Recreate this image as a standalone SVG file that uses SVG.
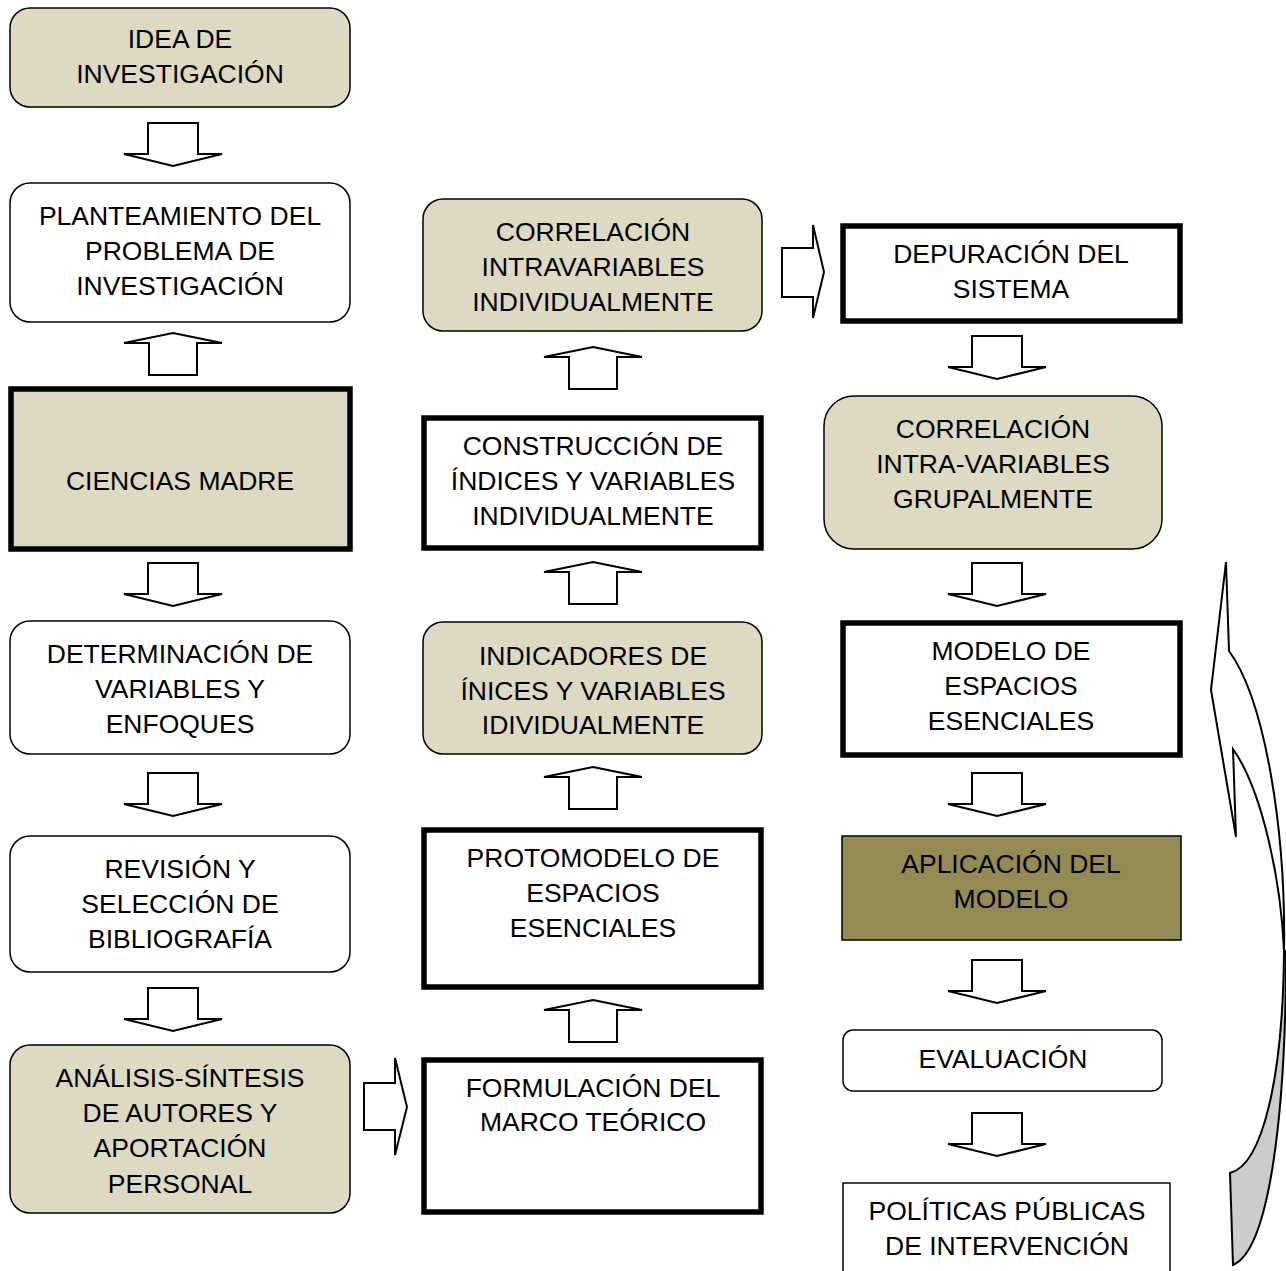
<svg xmlns="http://www.w3.org/2000/svg" width="1286" height="1271" viewBox="0 0 1286 1271">
<style>
.t{font-family:"Liberation Sans",Arial,sans-serif;font-size:26.5px;fill:#000;text-anchor:middle}
.tan{fill:#ddd9c3}
.wh{fill:#fff}
.thin{stroke:#000;stroke-width:1.5}
.thick{stroke:#000;stroke-width:5.5}
.arr{fill:#fff;stroke:#000;stroke-width:2;stroke-linejoin:miter}
</style>
<defs>
<path id="dn" d="M-25,0 L25,0 L25,31 L49,31 L0,43 L-49,31 L-25,31 Z"/>
<path id="up" d="M0,0 L49,10 L24,10 L24,42 L-24,42 L-24,10 L-49,10 Z"/>
</defs>
<rect width="1286" height="1271" fill="#fff"/>
<g id="connectors">
<use href="#dn" x="173" y="123" class="arr"/>
<use href="#up" x="173" y="333" class="arr"/>
<use href="#dn" x="173" y="563" class="arr"/>
<use href="#dn" x="173" y="773" class="arr"/>
<use href="#dn" x="173" y="988" class="arr"/>
<path class="arr" d="M364,1083 L395,1083 L395,1058 L407,1107 L395,1155 L395,1130 L364,1130 Z"/>
<use href="#up" x="593" y="347" class="arr"/>
<use href="#up" x="593" y="562" class="arr"/>
<use href="#up" x="593" y="767" class="arr"/>
<use href="#up" x="593" y="1000" class="arr"/>
<path class="arr" d="M782,248 L813,248 L813,225 L824,272 L813,318 L813,297 L782,297 Z"/>
<use href="#dn" x="997" y="336" class="arr"/>
<use href="#dn" x="997" y="563" class="arr"/>
<use href="#dn" x="997" y="773" class="arr"/>
<use href="#dn" x="997" y="960" class="arr"/>
<use href="#dn" x="997" y="1113" class="arr"/>
<g id="curved-arrow">
<path d="M1284,951 C1283,1080 1262,1165 1230,1173 L1233,1265 C1270,1250 1286,1110 1286,951 Z" fill="#cccccc" stroke="#000" stroke-width="2"/>
<path d="M1226,562 L1211,690 L1236,837 L1233,749 C1262,790 1281,880 1284,951 C1286,830 1265,700 1229,651 Z" fill="#fff" stroke="#000" stroke-width="2" stroke-linejoin="miter"/>
</g>
</g>
<g id="n1"><rect x="10" y="8" width="340" height="99" rx="20" class="tan thin"/><text class="t" x="180" y="48">IDEA DE</text><text class="t" x="180" y="83">INVESTIGACIÓN</text></g>
<g id="n2"><rect x="10" y="183" width="340" height="139" rx="20" class="wh thin"/><text class="t" x="180" y="225">PLANTEAMIENTO DEL</text><text class="t" x="180" y="260">PROBLEMA DE</text><text class="t" x="180" y="295">INVESTIGACIÓN</text></g>
<g id="n3"><rect x="11" y="389" width="339" height="160" class="tan thick"/><text class="t" x="180" y="490">CIENCIAS MADRE</text></g>
<g id="n4"><rect x="10" y="621" width="340" height="133" rx="20" class="wh thin"/><text class="t" x="180" y="663">DETERMINACIÓN DE</text><text class="t" x="180" y="698">VARIABLES Y</text><text class="t" x="180" y="733">ENFOQUES</text></g>
<g id="n5"><rect x="10" y="836" width="340" height="136" rx="20" class="wh thin"/><text class="t" x="180" y="878">REVISIÓN Y</text><text class="t" x="180" y="913">SELECCIÓN DE</text><text class="t" x="180" y="948">BIBLIOGRAFÍA</text></g>
<g id="n6"><rect x="10" y="1045" width="340" height="168" rx="20" class="tan thin"/><text class="t" x="180" y="1087">ANÁLISIS-SÍNTESIS</text><text class="t" x="180" y="1122">DE AUTORES Y</text><text class="t" x="180" y="1157">APORTACIÓN</text><text class="t" x="180" y="1193">PERSONAL</text></g>
<g id="n7"><rect x="423" y="199" width="339" height="132" rx="20" class="tan thin"/><text class="t" x="593" y="241">CORRELACIÓN</text><text class="t" x="593" y="276">INTRAVARIABLES</text><text class="t" x="593" y="311">INDIVIDUALMENTE</text></g>
<g id="n8"><rect x="424" y="418" width="337" height="130" class="wh thick"/><text class="t" x="593" y="455">CONSTRUCCIÓN DE</text><text class="t" x="593" y="490">ÍNDICES Y VARIABLES</text><text class="t" x="593" y="525">INDIVIDUALMENTE</text></g>
<g id="n9"><rect x="423" y="622" width="339" height="132" rx="20" class="tan thin"/><text class="t" x="593" y="665">INDICADORES DE</text><text class="t" x="593" y="700">ÍNICES Y VARIABLES</text><text class="t" x="593" y="734">IDIVIDUALMENTE</text></g>
<g id="n10"><rect x="424" y="830" width="337" height="157" class="wh thick"/><text class="t" x="593" y="867">PROTOMODELO DE</text><text class="t" x="593" y="902">ESPACIOS</text><text class="t" x="593" y="937">ESENCIALES</text></g>
<g id="n11"><rect x="424" y="1060" width="337" height="152" class="wh thick"/><text class="t" x="593" y="1097">FORMULACIÓN DEL</text><text class="t" x="593" y="1131">MARCO TEÓRICO</text></g>
<g id="n12"><rect x="843" y="226" width="337" height="95" class="wh thick"/><text class="t" x="1011" y="263">DEPURACIÓN DEL</text><text class="t" x="1011" y="298">SISTEMA</text></g>
<g id="n13"><rect x="824" y="396" width="338" height="153" rx="30" class="tan thin"/><text class="t" x="993" y="438">CORRELACIÓN</text><text class="t" x="993" y="473">INTRA-VARIABLES</text><text class="t" x="993" y="508">GRUPALMENTE</text></g>
<g id="n14"><rect x="843" y="623" width="337" height="132" class="wh thick"/><text class="t" x="1011" y="660">MODELO DE</text><text class="t" x="1011" y="695">ESPACIOS</text><text class="t" x="1011" y="730">ESENCIALES</text></g>
<g id="n15"><rect x="842" y="836" width="339" height="104" fill="#948a54" class="thin"/><text class="t" x="1011" y="873">APLICACIÓN DEL</text><text class="t" x="1011" y="908">MODELO</text></g>
<g id="n16"><rect x="843" y="1030" width="319" height="61" rx="10" class="wh thin"/><text class="t" x="1003" y="1068">EVALUACIÓN</text></g>
<g id="n17"><rect x="843" y="1183" width="327" height="95" class="wh thin"/><text class="t" x="1007" y="1220">POLÍTICAS PÚBLICAS</text><text class="t" x="1007" y="1255">DE INTERVENCIÓN</text></g>
</svg>
